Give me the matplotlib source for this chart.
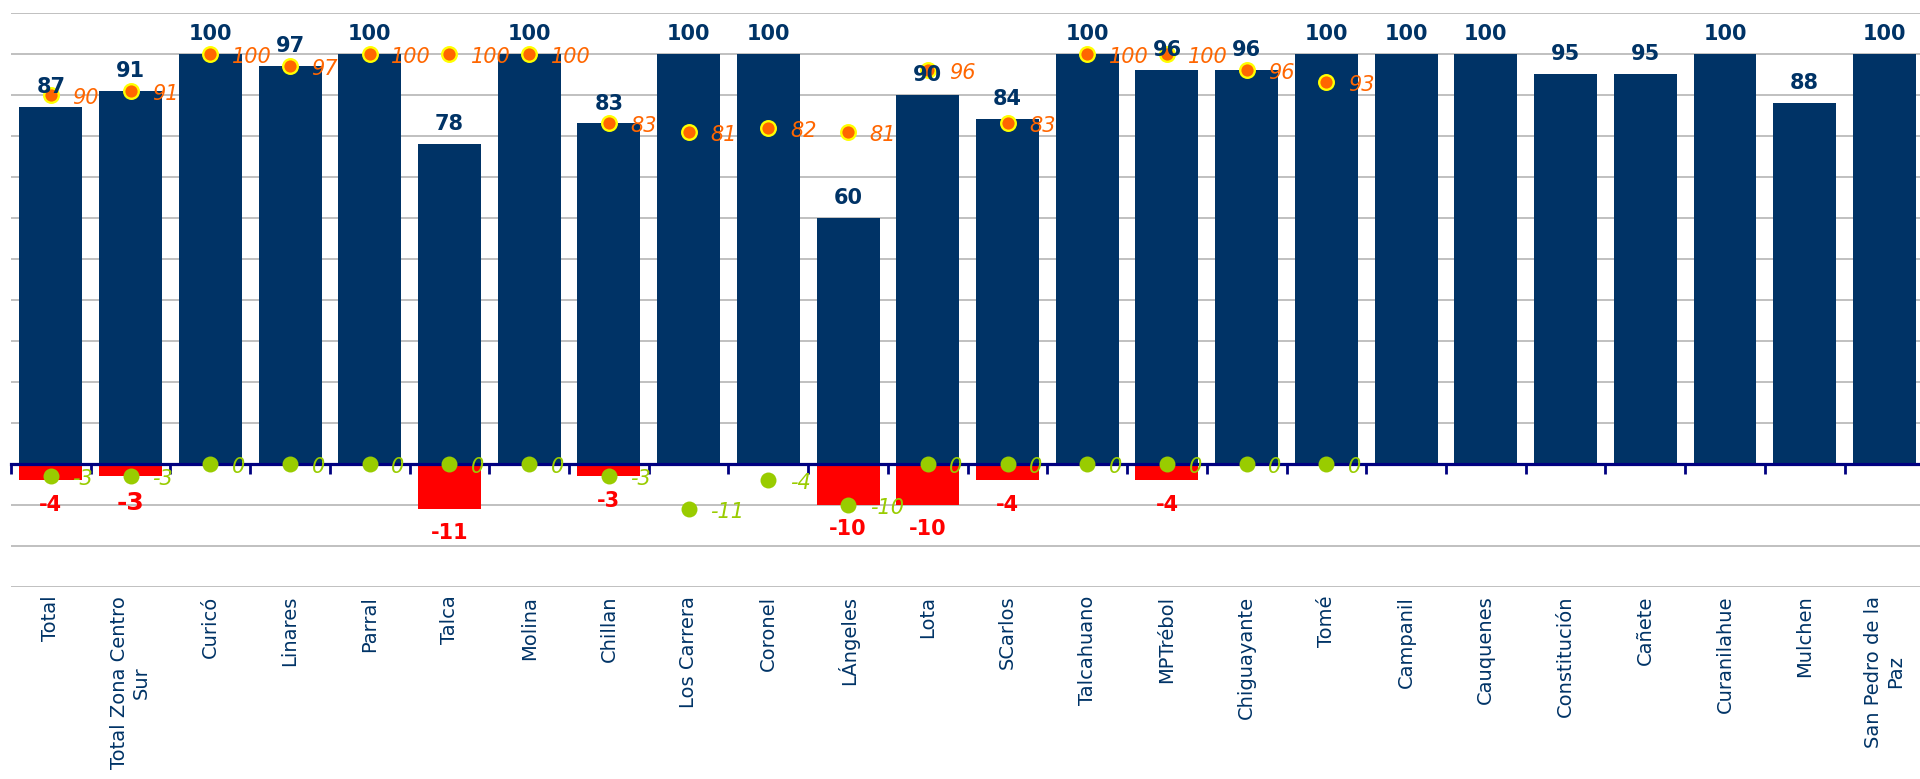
import matplotlib
matplotlib.use("Agg")
import matplotlib.pyplot as plt
import numpy as np

# ---- data -------------------------------------------------------------
categories = [
    "Total", "Total Zona Centro\nSur", "Curicó", "Linares", "Parral", "Talca",
    "Molina", "Chillan", "Los Carrera", "Coronel", "LÁngeles", "Lota",
    "SCarlos", "Talcahuano", "MPTrébol", "Chiguayante", "Tomé", "Campanil",
    "Cauquenes", "Constitución", "Cañete", "Curanilahue", "Mulchen",
    "San Pedro de la\nPaz",
]

current = [87, 91, 100, 97, 100, 78, 100, 83, 100, 100, 60, 90,
           84, 100, 96, 96, 100, 100, 100, 95, 95, 100, 88, 100]

# negative change bars (None = no bar)
change = [-4, -3, None, None, None, -11, None, -3, None, None, -10, -10,
          -4, None, -4, None, None, None, None, None, None, None, None, None]

previous = [90, 91, 100, 97, 100, 100, 100, 83, 81, 82, 81, 96,
            83, 100, 100, 96, 93, None, None, None, None, None, None, None]

prev_change = [-3, -3, 0, 0, 0, 0, 0, -3, -11, -4, -10, 0,
               0, 0, 0, 0, 0, None, None, None, None, None, None, None]

# ---- style ------------------------------------------------------------
NAVY = "#003366"
AXIS = "#000080"
RED = "#FF0000"
ORANGE = "#FF6600"
YELLOW = "#FFFF00"
GREEN = "#99CC00"
GRID = "#C0C0C0"
BAR_W = 0.79
big_change_labels = {1: 18}   # category index -> font size for emphasised label

n = len(categories)
x = np.arange(n)

fig = plt.figure(figsize=(19.2, 7.79), dpi=100)
ax = fig.add_axes([11 / 1920, 1 - 586.7 / 779, 1913.3 / 1920, 574 / 779])

ax.set_xlim(-0.5, n - 0.5)
ax.set_ylim(-30, 110)
ax.set_yticks(np.arange(-30, 111, 10))
ax.yaxis.grid(True, color=GRID, linewidth=1.4)
ax.set_axisbelow(True)
ax.tick_params(axis="y", length=0, labelleft=False)
for side in ("top", "right", "left"):
    ax.spines[side].set_visible(False)

# category axis sits on the zero line, with ticks between categories
ax.spines["bottom"].set_position(("data", 0))
ax.spines["bottom"].set_color(AXIS)
ax.spines["bottom"].set_linewidth(2.3)
ax.spines["bottom"].set_zorder(4)
ax.set_xticks(np.arange(n + 1) - 0.5)
ax.tick_params(axis="x", length=7, width=2, color=AXIS, direction="out",
               labelbottom=False)

# category names along the bottom of the plot area
sec = ax.secondary_xaxis(0.0)
sec.set_xticks(x)
sec.set_xticklabels(categories, rotation=90, fontsize=14, color=NAVY)
sec.tick_params(length=0, pad=6.5)
sec.spines["bottom"].set_visible(False)
for lbl in sec.get_xticklabels():
    lbl.set_multialignment("center")

# bars
ax.bar(x, current, width=BAR_W, color=NAVY, zorder=2)
neg_idx = [i for i, v in enumerate(change) if v is not None]
ax.bar([x[i] for i in neg_idx], [change[i] for i in neg_idx],
       width=BAR_W, color=RED, zorder=2)

# markers
prev_idx = [i for i, v in enumerate(previous) if v is not None]
ax.plot([x[i] for i in prev_idx], [previous[i] for i in prev_idx], ls="none",
        marker="o", ms=10.5, mfc=ORANGE, mec=YELLOW, mew=1.7, zorder=5)
pc_idx = [i for i, v in enumerate(prev_change) if v is not None]
ax.plot([x[i] for i in pc_idx], [prev_change[i] for i in pc_idx], ls="none",
        marker="o", ms=11.5, mfc=GREEN, mec="none", zorder=5)

# value labels
for i, v in enumerate(current):
    ax.annotate(f"{v}", (x[i], v), xytext=(0, 10), textcoords="offset points",
                ha="center", va="baseline", fontsize=15, fontweight="bold",
                color=NAVY, zorder=7)

for i in neg_idx:
    v = change[i]
    ax.annotate(f"{v}", (x[i], v), xytext=(0, -10.5), textcoords="offset points",
                ha="center", va="top", fontsize=big_change_labels.get(i, 15),
                fontweight="bold", color=RED, zorder=7)

for i in prev_idx:
    v = previous[i]
    ax.annotate(f"{v}", (x[i], v), xytext=(15.5, -6.5), textcoords="offset points",
                ha="left", va="baseline", fontsize=15, style="italic",
                color=ORANGE, zorder=6)

for i in pc_idx:
    v = prev_change[i]
    ax.annotate(f"{v}", (x[i], v), xytext=(15.5, -6.5), textcoords="offset points",
                ha="left", va="baseline", fontsize=15, style="italic",
                color=GREEN, zorder=6)

fig.savefig("out.png", dpi=100)
